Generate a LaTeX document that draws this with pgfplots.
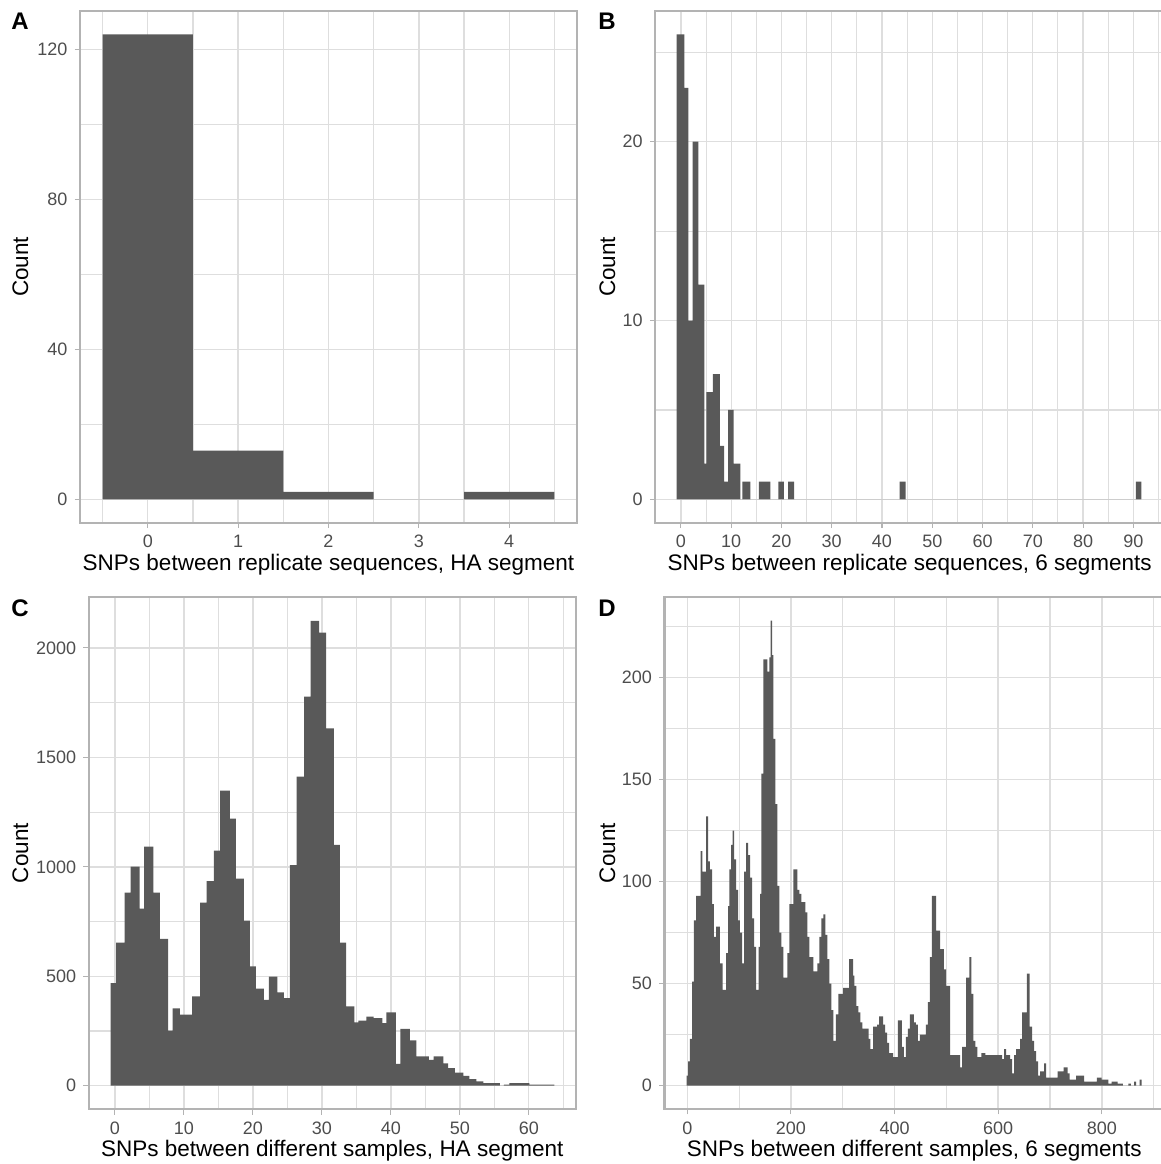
\documentclass[border=0pt]{standalone}
\usepackage{fontspec}
\setmainfont{Liberation Sans}
\usepackage{pgfplots}
\pgfplotsset{compat=1.18}
\definecolor{barfill}{HTML}{595959}
\definecolor{gridcol}{HTML}{DEDEDE}
\definecolor{framecol}{HTML}{B3B3B3}
\definecolor{ticktext}{HTML}{4D4D4D}

\pgfplotsset{
  histpanel/.style={
    scale only axis,
    height=255.85pt,
    anchor=south west,
    axis line style={framecol, line width=1.07pt},
    grid=both,
    major grid style={gridcol, line width=0.7pt},
    minor grid style={gridcol, line width=0.55pt},
    tick align=outside,
    tick pos=left,
    major tick length=2.75pt,
    minor tick length=0pt,
    tick style={framecol, line width=0.55pt},
    ticklabel style={font=\fontsize{9}{10}\selectfont, text=ticktext},
    /pgf/number format/assume math mode=true,
    /pgf/number format/1000 sep={},
    scaled ticks=false,
    xlabel style={at={(axis description cs:0.5,0)}, anchor=base, yshift=-23.85pt,
      inner sep=0pt, font=\fontsize{11.25}{13}\selectfont},
  },
  bars/.style={const plot, fill=barfill, draw=none},
}

\begin{document}
\begin{tikzpicture}
\useasboundingbox (0,0) rectangle (580.5pt,582pt);

% A: replicate sequences, HA segment
\begin{axis}[histpanel, at={(40pt,320.65pt)}, width=248.5pt,
  xmin=-0.75, xmax=4.75, ymin=-6.2, ymax=130.2,
  xtick={0,1,2,3,4}, minor xtick={-0.5,0.5,1.5,2.5,3.5,4.5},
  ytick={0,40,80,120}, minor ytick={20,60,100},
  xlabel={SNPs between replicate sequences, HA segment}]
\addplot[bars] coordinates {
  (-0.5,0) (-0.5,124) (0.5,13) (1.5,2) (2.5,0) (3.5,2) (4.5,0)
} -- cycle;
\end{axis}

% B: replicate sequences, 6 segments
\begin{axis}[histpanel, at={(327.65pt,320.65pt)}, width=254.35pt,
  xmin=-5.1, xmax=96.1, ymin=-1.3, ymax=27.3,
  xtick={0,10,...,90}, minor xtick={-5,5,15,...,95},
  ytick={0,10,20}, minor ytick={5,15,25},
  xlabel={SNPs between replicate sequences, 6 segments}]
\addplot[bars] coordinates {
  (-0.86,0) (-0.86,26) (0.66,23) (1.46,10) (2.32,20) (3.45,12) (4.64,2)
  (5.04,6) (6.36,7) (7.75,3) (8.6,1) (9.4,5) (10.5,2) (11.8,0) (12.2,1)
  (13.8,0) (15.5,1) (17.8,0) (19.4,1) (20.5,0) (21.3,1) (22.5,0)
  (43.5,1) (44.7,0) (90.5,1) (91.6,0)
} -- cycle;
\end{axis}

% C: different samples, HA segment
\begin{axis}[histpanel, at={(44.35pt,27.5pt)}, width=243.5pt,
  xmin=-3.8, xmax=66.8, ymin=-106.25, ymax=2231.25,
  xtick={0,10,...,60}, minor xtick={5,15,...,65},
  ytick={0,500,...,2000}, minor ytick={250,750,1250,1750},
  xlabel={SNPs between different samples, HA segment}]
\addplot[bars] coordinates {
  (-0.63,0) (-0.63,469) (0.19,654) (1.40,882) (2.27,1001) (3.57,809)
  (4.25,1092) (5.56,882) (6.52,671) (7.73,252) (8.36,353) (9.42,325)
  (11.21,408) (12.37,837) (13.29,935) (14.35,1074) (15.27,1348)
  (16.67,1220) (17.54,946) (18.70,754) (19.57,545) (20.43,444)
  (21.59,392) (22.32,499) (23.57,426) (24.49,400) (25.36,1008)
  (26.33,1412) (27.44,1777) (28.36,2123) (29.61,2070) (30.63,1632)
  (31.74,1100) (32.61,654) (33.53,362) (34.73,289) (35.31,298)
  (36.47,316) (37.49,309) (38.79,286) (39.37,335) (40.72,100)
  (41.40,260) (42.75,207) (43.72,134) (45.5,118) (46.2,134) (47.6,102)
  (48.3,80) (49.3,60) (50.5,45) (51.4,30) (52.4,20) (53.4,12) (55.8,0)
  (56.4,5) (57.2,12) (60.1,5) (63.7,0)
} -- cycle;
\end{axis}

% D: different samples, 6 segments
\begin{axis}[histpanel, at={(332.25pt,27.5pt)}, width=249.75pt,
  xmin=-44, xmax=920, ymin=-11.4, ymax=239.4,
  xtick={0,200,...,800}, minor xtick={100,300,...,900},
  ytick={0,50,...,200}, minor ytick={25,75,...,225},
  xlabel={SNPs between different samples, 6 segments}]
\addplot[bars] coordinates {
  (-1.2,0) (-1.2,5) (1.4,12) (5.2,23) (9.1,51) (12.9,81) (16.8,93)
  (25.8,115) (29.0,105) (36.1,132) (40.0,110) (43.8,106) (47.7,89)
  (51.5,73) (55.4,78) (63.1,60) (68.3,47) (74.7,65) (78.6,88) (81.1,106)
  (84.4,118) (87.6,125) (90.2,111) (94.0,96) (97.9,81) (101.7,75)
  (105.6,60) (109.5,105) (113.3,119) (117.2,113) (121.0,102) (124.9,82)
  (128.8,68) (132.6,47) (137.7,68) (140.3,94) (142.9,153) (146.8,209)
  (154.5,203) (158.3,210) (160.9,228) (163.5,211) (166.1,170) (170.0,138)
  (173.9,98) (177.8,75) (181.6,68) (185.5,53) (193.2,65) (197.1,89)
  (204.8,106) (212.5,96) (216.4,94) (220.2,90) (227.9,85) (231.7,73)
  (235.6,63) (243.3,56) (251.0,60) (254.8,73) (258.7,82) (262.6,84)
  (266.4,74) (270.3,62) (274.2,50) (278.1,37) (282.0,22) (286.5,35)
  (291.6,45) (300.6,48) (312.3,62) (320.0,54) (322.6,49) (326.4,39)
  (330.3,36) (334.2,31) (338.1,28) (349.7,23) (353.5,18) (358.7,29)
  (366.4,30) (370.3,34) (378.0,30) (381.9,26) (385.8,21) (389.7,16)
  (397.4,14) (406.4,32) (414.2,19) (418.0,14) (421.9,24) (425.8,28)
  (429.6,35) (437.4,31) (441.3,30) (445.1,22) (449.0,25) (460.6,30)
  (464.5,41) (468.3,63) (472.2,93) (480.0,76) (487.7,67) (495.4,57)
  (499.3,49) (507.0,15) (526.4,9) (530.3,19) (538.0,53) (544.5,63)
  (548.3,45) (552.2,22) (556.1,19) (560.0,14) (567.7,16) (575.4,15)
  (607.7,13) (611.6,18) (615.4,15) (623.2,13) (627.0,6) (630.9,15)
  (634.7,18) (642.5,23) (646.3,36) (655.3,55) (660.5,29) (665.6,22)
  (669.5,17) (673.4,12) (677.2,5) (681.1,7) (688.8,11) (692.7,4)
  (714.5,7) (726.1,9) (733.8,6) (737.7,3) (750.6,5) (766.0,2) (790.5,4)
  (799.5,3) (812.4,1) (818.8,2) (830.4,1) (840.7,0) (851.0,1) (856.1,0)
  (862.5,2) (866.4,0) (872.8,3) (876.7,0)
} -- cycle;
\end{axis}

% panel letters and y titles
\tikzset{panlab/.style={anchor=base west, inner sep=0pt, font=\fontsize{12}{14}\selectfont\bfseries},
  ytitle/.style={rotate=90, anchor=base, inner sep=0pt, font=\fontsize{11.25}{13}\selectfont}}
\node[panlab] at (5.5pt,567.2pt) {A};
\node[panlab] at (299pt,567.2pt) {B};
\node[panlab] at (5.5pt,273.5pt) {C};
\node[panlab] at (299pt,273.5pt) {D};
\node[ytitle] at (14pt,448.6pt) {Count};
\node[ytitle] at (307.5pt,448.6pt) {Count};
\node[ytitle] at (14pt,155.4pt) {Count};
\node[ytitle] at (307.5pt,155.4pt) {Count};
\end{tikzpicture}
\end{document}
